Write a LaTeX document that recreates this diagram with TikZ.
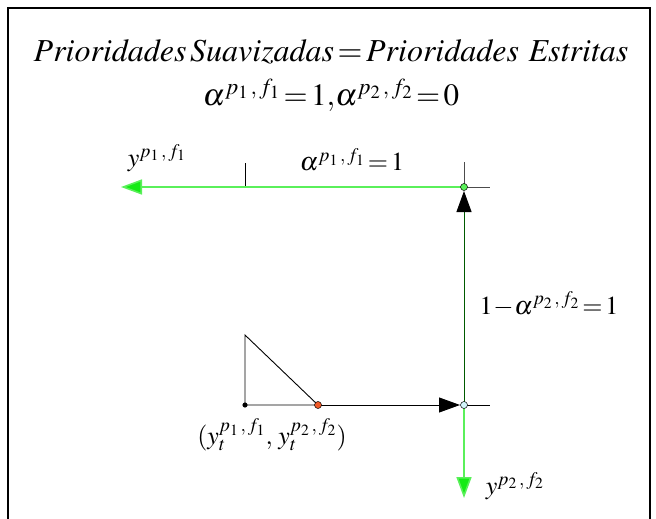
\documentclass[tikz,border=0pt]{standalone}
\usepackage{mathptmx}
\usepackage{tikz}
\usetikzlibrary{arrows.meta, positioning}

\definecolor{verdeclaro}{RGB}{90,240,90}
\definecolor{verdeseta}{RGB}{20,235,20}
\definecolor{verdeescuro}{RGB}{0,90,0}
\definecolor{laranja}{RGB}{240,90,40}
\definecolor{ciano}{RGB}{210,245,250}

\newcommand{\sobre}[2]{^{#1\,,\,#2}}

\tikzset{
  ponto/.style={circle, draw=black, line width=0.5pt, inner sep=0pt, minimum size=7pt},
  rotulo/.style={inner sep=0pt, font=\fontsize{26}{28}\selectfont},
  eixo/.style={line width=0.9pt}
}

\begin{document}
\begin{tikzpicture}[x=1pt, y=-1pt, >={Triangle[length=21pt, width=15pt]}]

  % moldura e área fixa
  \useasboundingbox (0,0) rectangle (656,519);
  \draw[line width=2pt] (8,530) -- (8,8) -- (650,8) -- (650,530);

  % títulos
  \node[rotulo, font=\fontsize{32}{34}\selectfont] (titulo) at (331,52)
    {$\mathit{Prioridades\,Suavizadas}\!=\!\mathit{Prioridades\ Estritas}$};
  \node[rotulo, font=\fontsize{31}{33}\selectfont] (alfas) at (331,95)
    {$\alpha\sobre{p_1}{f_1}\!=\!1,\!\alpha\sobre{p_2}{f_2}\!=\!0$};

  % vértices
  \coordinate (C) at (464,187);
  \coordinate (B) at (464,405);
  \coordinate (T) at (245,335);
  \coordinate (Y) at (245,405);
  \coordinate (O) at (318,405);
  \coordinate (E1) at (121,187);
  \coordinate (E2) at (464,498);
  \coordinate (Cs) at (464,162);
  \coordinate (Cd) at (490,187);
  \coordinate (Bd) at (490,405);
  \coordinate (M1) at (245,163);
  \coordinate (M2) at (245,187);

  % eixos auxiliares
  \draw[eixo, black!70] (Cs) -- (C) -- (Cd);
  \draw[eixo] (B) -- (Bd);
  \draw[eixo] (M1) -- (M2);

  % triângulo
  \draw[eixo] (T) -- (Y) -- (O) -- cycle;

  % setas
  \draw[verdeclaro, line width=1.6pt, -{Triangle[length=21pt, width=15pt, fill=verdeseta]}] (C) -- (E1);
  \draw[verdeclaro, line width=1.6pt, -{Triangle[length=21pt, width=15pt, fill=verdeseta]}] (B) -- (E2);
  \draw[verdeescuro, line width=1pt, -{Triangle[length=21pt, width=15pt, color=black]}, shorten >=4pt] (B) -- (C);
  \draw[eixo, -{Triangle[length=21pt, width=15pt]}, shorten >=4pt] (O) -- (B);

  % pontos
  \node[ponto, fill=black, minimum size=4.5pt] (py) at (Y) {};
  \node[ponto, fill=laranja] (po) at (O) {};
  \node[ponto, fill=ciano] (pb) at (B) {};
  \node[ponto, fill=verdeclaro] (pc) at (C) {};

  % rótulos
  \node[rotulo] (ly1) at (157,158) {$y\sobre{p_1}{f_1}$};
  \node[rotulo] (la1) at (352,160) {$\alpha\sobre{p_1}{f_1}\!=\!1$};
  \node[rotulo] (la2) at (549,304) {$1\!-\!\alpha\sobre{p_2}{f_2}\!=\!1$};
  \node[rotulo] (lyt) at (272,435) {$(y_t\sobre{p_1}{f_1},\,y_t\sobre{p_2}{f_2})$};
  \node[rotulo] (ly2) at (515,486) {$y\sobre{p_2}{f_2}$};

\end{tikzpicture}
\end{document}
